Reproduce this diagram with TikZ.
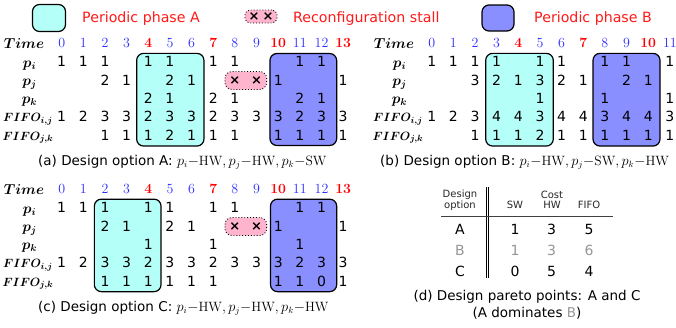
\documentclass[tikz,border=0pt]{standalone}
\usepackage{fontspec}
\newfontfamily\dvfont{DejaVu Sans}
\definecolor{phA}{RGB}{180,255,248}
\definecolor{phB}{RGB}{138,143,255}
\definecolor{stallpink}{RGB}{255,180,206}
\definecolor{tblue}{RGB}{45,45,255}
\definecolor{tred}{RGB}{255,0,0}
\definecolor{legred}{RGB}{255,25,25}
\definecolor{dimgray}{RGB}{150,150,150}
\tikzset{
 cell/.style={font=\dvfont\fontsize{14}{16}\selectfont, inner sep=0pt, anchor=center},
 tnum/.style={font=\fontsize{14}{16}\selectfont, text=tblue, inner sep=0pt, anchor=center},
 tnumred/.style={font=\fontsize{14}{16}\selectfont\bfseries, text=tred, inner sep=0pt, anchor=center},
 rowlab/.style={font=\fontsize{14}{16}\selectfont\boldmath, inner sep=0pt, anchor=base},
 fifolab/.style={font=\fontsize{12.3}{14}\selectfont\boldmath, inner sep=0pt, anchor=base},
 phaseA/.style={draw=black, line width=1.2pt, fill=phA, rounded corners=7pt, inner sep=0pt},
 phaseB/.style={draw=black, line width=1.2pt, fill=phB, rounded corners=7pt, inner sep=0pt},
 stallbox/.style={draw=black, dotted, line width=0.9pt, fill=stallpink, rounded corners=7pt, inner sep=0pt},
 xmark/.style={font=\dvfont\bfseries\fontsize{13}{15}\selectfont, inner sep=0pt, anchor=center},
 legtext/.style={font=\dvfont\fontsize{14.2}{17}\selectfont, text=legred, inner sep=0pt, anchor=base west},
 captext/.style={font=\dvfont\fontsize{13.5}{16}\selectfont, inner sep=0pt, anchor=base west},
 capmid/.style={font=\dvfont\fontsize{13.5}{16}\selectfont, inner sep=0pt, anchor=base},
 hdr/.style={font=\dvfont\fontsize{10}{12}\selectfont, text=black!85, inner sep=0pt, anchor=base},
 tval/.style={font=\dvfont\fontsize{14}{16}\selectfont, inner sep=0pt, anchor=center},
 tvaldim/.style={tval, text=dimgray},
}
\newcommand\cellrow[4]{\foreach \c/\v in {#4}{\node[cell] (#1-\c) at ({#2+21.65*\c},#3) {\v};}}
\newcommand\timerow[5]{%
 \foreach \c in {#4}{\node[tnum] (#1-\c) at ({#2+21.65*\c},#3) {\c};}%
 \foreach \c in {#5}{\node[tnumred] (#1-\c) at ({#2+21.65*\c},#3) {\c};}}
\begin{document}
\begin{tikzpicture}[x=1pt,y=-1pt]
\useasboundingbox (0,0) rectangle (676,327);
% ---------- legend ----------
\node[phaseA, minimum width=33pt, minimum height=27pt] (legA) at (49,18) {};
\node[legtext] (legAt) at (82,22) {Periodic phase A};
\node[stallbox, minimum width=32pt, minimum height=13pt, rounded corners=5pt] (legS) at (261,16.5) {};
\node[xmark] (legSx1) at (254,16.5) {×};
\node[xmark] (legSx2) at (268,16.5) {×};
\node[legtext] (legSt) at (293,22) {Reconfiguration stall};
\node[phaseB, minimum width=32pt, minimum height=26pt] (legB) at (498,18) {};
\node[legtext] (legBt) at (534,22.3) {Periodic phase B};

% ---------- panel A ----------
\node[phaseA, minimum width=67.3pt, minimum height=92.7pt] (a-boxA) at (170.3,99.7) {};
\node[phaseB, minimum width=66.7pt, minimum height=92pt] (a-boxB) at (303.3,99.5) {};
\node[stallbox, minimum width=41.7pt, minimum height=18pt] (a-stall) at (245.8,80.5) {};
\node[xmark] (a-x8) at ({61.7+21.65*8},80.2) {×};
\node[xmark] (a-x9) at ({61.7+21.65*9},80.2) {×};
\node[rowlab] (a-lt) at (24,48.8) {$Time$};
\node[rowlab] (a-lpi) at (29.5,67.1) {$p_i$};
\node[rowlab] (a-lpj) at (29.5,85.5) {$p_j$};
\node[rowlab] (a-lpk) at (29.5,103.8) {$p_k$};
\node[fifolab] (a-lfij) at (28,121.7) {$FIFO_{i,j}$};
\node[fifolab] (a-lfjk) at (28,140) {$FIFO_{j,k}$};
\timerow{a-t}{61.7}{43.3}{0,1,2,3,5,6,8,9,11,12}{4,7,10,13}
\cellrow{a-pi}{61.7}{61.65}{0/1,1/1,2/1,4/1,5/1,7/1,8/1,11/1,12/1}
\cellrow{a-pj}{61.7}{80}{2/2,3/1,5/2,6/1,10/1,13/1}
\cellrow{a-pk}{61.7}{98.35}{4/2,5/1,7/2,8/1,11/2,12/1}
\cellrow{a-fij}{61.7}{116.7}{0/1,1/2,2/3,3/3,4/2,5/3,6/3,7/2,8/3,9/3,10/3,11/2,12/3,13/3}
\cellrow{a-fjk}{61.7}{135.05}{2/1,3/1,4/1,5/2,6/1,7/1,8/1,10/1,11/1,12/1,13/1}
\node[captext] (a-cap) at (38,165) {(a) Design option A: $p_i{-}\mathrm{HW}, p_j{-}\mathrm{HW}, p_k{-}\mathrm{SW}$};

% ---------- panel B ----------
\node[phaseA, minimum width=67.6pt, minimum height=92.7pt] (b-boxA) at (519.5,99.7) {};
\node[phaseB, minimum width=67pt, minimum height=92.7pt] (b-boxB) at (626.5,99.7) {};
\node[rowlab] (b-lt) at (394,48.8) {$Time$};
\node[rowlab] (b-lpi) at (399.5,67.1) {$p_i$};
\node[rowlab] (b-lpj) at (399.5,85.5) {$p_j$};
\node[rowlab] (b-lpk) at (399.5,103.8) {$p_k$};
\node[fifolab] (b-lfij) at (398,121.7) {$FIFO_{i,j}$};
\node[fifolab] (b-lfjk) at (398,140) {$FIFO_{j,k}$};
\timerow{b-t}{431.7}{43.3}{0,1,2,3,5,6,8,9,11}{4,7,10}
\cellrow{b-pi}{431.7}{61.65}{0/1,1/1,2/1,3/1,5/1,6/1,8/1,9/1,11/1}
\cellrow{b-pj}{431.7}{80}{2/3,3/2,4/1,5/3,6/2,7/1,9/2,10/1}
\cellrow{b-pk}{431.7}{98.35}{5/1,8/1,11/1}
\cellrow{b-fij}{431.7}{116.7}{0/1,1/2,2/3,3/4,4/4,5/3,6/4,7/4,8/3,9/4,10/4,11/3}
\cellrow{b-fjk}{431.7}{135.05}{2/1,3/1,4/1,5/2,6/1,7/1,8/1,9/1,10/1,11/1}
\node[captext] (b-cap) at (380,165) {(b) Design option B: $p_i{-}\mathrm{HW}, p_j{-}\mathrm{SW}, p_k{-}\mathrm{HW}$};

% ---------- panel C ----------
\node[phaseA, minimum width=66.7pt, minimum height=92.5pt] (c-boxA) at (127.7,245.4) {};
\node[phaseB, minimum width=66.2pt, minimum height=92.5pt] (c-boxB) at (303.6,245.4) {};
\node[stallbox, minimum width=41.7pt, minimum height=18pt] (c-stall) at (245.8,226.5) {};
\node[xmark] (c-x8) at ({61.7+21.65*8},226.2) {×};
\node[xmark] (c-x9) at ({61.7+21.65*9},226.2) {×};
\node[rowlab] (c-lt) at (24,194.8) {$Time$};
\node[rowlab] (c-lpi) at (29.5,213.1) {$p_i$};
\node[rowlab] (c-lpj) at (29.5,231.5) {$p_j$};
\node[rowlab] (c-lpk) at (29.5,249.8) {$p_k$};
\node[fifolab] (c-lfij) at (28,267.7) {$FIFO_{i,j}$};
\node[fifolab] (c-lfjk) at (28,286) {$FIFO_{j,k}$};
\timerow{c-t}{61.7}{189.3}{0,1,2,3,5,6,8,9,11,12}{4,7,10,13}
\cellrow{c-pi}{61.7}{207.65}{0/1,1/1,2/1,4/1,5/1,7/1,8/1,11/1,12/1}
\cellrow{c-pj}{61.7}{226}{2/2,3/1,5/2,6/1,10/1,13/1}
\cellrow{c-pk}{61.7}{244.35}{4/1,7/1,11/1}
\cellrow{c-fij}{61.7}{262.7}{0/1,1/2,2/3,3/3,4/2,5/3,6/3,7/2,8/3,9/3,10/3,11/2,12/3,13/3}
\cellrow{c-fjk}{61.7}{281.05}{2/1,3/1,4/1,5/1,6/1,7/1,10/1,11/1,12/0,13/1}
\node[captext] (c-cap) at (38,311) {(c) Design option C: $p_i{-}\mathrm{HW}, p_j{-}\mathrm{HW}, p_k{-}\mathrm{HW}$};

% ---------- panel D (table) ----------
\coordinate (d-vt) at (487.5,187);
\coordinate (d-vb) at (487.5,278);
\draw[double=white, double distance=1.8pt, line width=0.8pt] (d-vt) -- (d-vb);
\coordinate (d-hl) at (441,216.5);
\coordinate (d-hr) at (613,216.5);
\draw[line width=1.3pt, black!75] (d-hl) -- (d-hr);
\node[hdr] (d-des) at (460,197.5) {Design};
\node[hdr] (d-opt) at (460,208.5) {option};
\node[hdr] (d-cost) at (552,198.5) {Cost};
\node[hdr] (d-sw) at (515,208.5) {SW};
\node[hdr] (d-hw) at (552,208.5) {HW};
\node[hdr] (d-fifo) at (589,208.5) {FIFO};
\node[tval] (d-A) at (460,229) {A};
\node[tval] (d-A1) at (515,229) {1};
\node[tval] (d-A2) at (551.5,229) {3};
\node[tval] (d-A3) at (589,229) {5};
\node[tvaldim] (d-B) at (460,250.5) {B};
\node[tvaldim] (d-B1) at (515,250.5) {1};
\node[tvaldim] (d-B2) at (551.5,250.5) {3};
\node[tvaldim] (d-B3) at (589,250.5) {6};
\node[tval] (d-C) at (460,271.5) {C};
\node[tval] (d-C1) at (515,271.5) {0};
\node[tval] (d-C2) at (551.5,271.5) {5};
\node[tval] (d-C3) at (589,271.5) {4};
\node[capmid] (d-cap1) at (527,300) {(d) Design pareto points: A and C};
\node[capmid] (d-cap2) at (527,317) {(A dominates \textcolor{dimgray}{B})};
\end{tikzpicture}
\end{document}
